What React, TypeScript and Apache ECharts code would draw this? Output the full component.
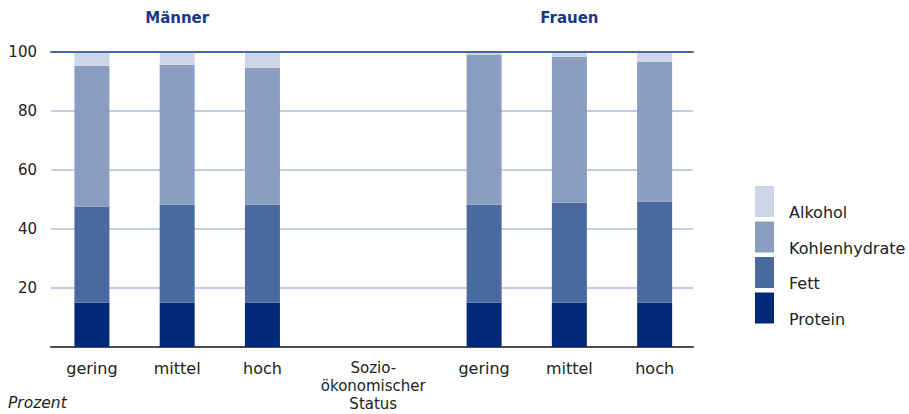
import React, { useEffect, useRef } from "react";
import * as echarts from "echarts";

// Categories (x positions in slot units; the gap between the groups is wider)
const categories = ["gering", "mittel", "hoch", "gering", "mittel", "hoch"];
const categoryPos = [0, 1, 2, 4.6, 5.6, 6.6];
const middleLabel = "Sozio-\nökonomischer\nStatus";
const middlePos = 3.3;
const groupTitles = ["Männer", "Frauen"];
const groupTitlePos = [1, 5.6];

// Series values (percent of energy intake)
const protein = [15, 15, 15, 15, 15, 15];
const fett = [32.6, 33.2, 33.2, 33.2, 33.9, 34.3];
const kohlenhydrate = [47.7, 47.5, 46.4, 50.9, 49.5, 47.4];
const alkohol = [4.7, 4.3, 5.4, 0.9, 1.6, 3.3];

const yTicks = [0, 20, 40, 60, 80, 100];

const seriesDefs = [
  { name: "Protein", values: protein, color: "#002a77" },
  { name: "Fett", values: fett, color: "#4a699e" },
  { name: "Kohlenhydrate", values: kohlenhydrate, color: "#8b9ec2" },
  { name: "Alkohol", values: alkohol, color: "#cdd5e8" },
];

const FONT = "'DejaVu Sans', 'Noto Sans', sans-serif";
const BAR_WIDTH = 35;

export default function App() {
  const ref = useRef<HTMLDivElement>(null);

  useEffect(() => {
    if (!ref.current) return;
    const chart = echarts.init(ref.current, null, { renderer: "svg" });

    const xMin = -0.48;
    const xMax = 7.05;
    const gridLeft = 51;
    const gridRight = 216;
    const gridWidth = 909 - gridLeft - gridRight;
    const toPx = (v: number) => gridLeft + ((v - xMin) / (xMax - xMin)) * gridWidth;

    const labelValues = [...categoryPos.slice(0, 3), middlePos, ...categoryPos.slice(3)];
    const labelTexts = [...categories.slice(0, 3), middleLabel, ...categories.slice(3)];

    // cumulative stacking
    const base = categoryPos.map(() => 0);
    const series: any[] = seriesDefs.map((s) => {
      const data = s.values.map((v, i) => {
        const start = base[i];
        base[i] += v;
        return [categoryPos[i], start, base[i]];
      });
      return {
        name: s.name,
        type: "custom",
        itemStyle: { color: s.color },
        encode: { x: 0, y: [1, 2] },
        data,
        renderItem: (params: any, api: any) => {
          const x = api.value(0);
          const p0 = api.coord([x, api.value(1)]);
          const p1 = api.coord([x, api.value(2)]);
          return {
            type: "rect",
            shape: {
              x: p0[0] - BAR_WIDTH / 2,
              y: p1[1],
              width: BAR_WIDTH,
              height: p0[1] - p1[1],
            },
            style: { fill: s.color },
          };
        },
      };
    });

    const option: any = {
      animation: false,
      textStyle: { fontFamily: FONT },
      grid: { left: gridLeft, right: gridRight, top: 52, bottom: 67 },
      legend: {
        orient: "vertical",
        left: 755,
        top: 186,
        padding: 0,
        itemWidth: 19,
        itemHeight: 31,
        itemGap: 1,
        icon: "rect",
        selectedMode: false,
        data: ["Alkohol", "Kohlenhydrate", "Fett", "Protein"],
        formatter: (name: string) => `{t|${name}}`,
        textStyle: {
          fontFamily: FONT,
          fontSize: 16,
          color: "#222",
          rich: {
            t: {
              fontFamily: FONT,
              fontSize: 16,
              color: "#222",
              padding: [22, 0, 0, 10],
            },
          },
        },
      },
      xAxis: [
        {
          type: "value",
          min: xMin,
          max: xMax,
          splitLine: { show: false },
          axisTick: { show: false },
          axisLine: { show: true, onZero: false, lineStyle: { color: "#4d4d4d", width: 2 } },
          axisLabel: {
            customValues: labelValues,
            showMinLabel: true,
            showMaxLabel: true,
            margin: 12,
            fontFamily: FONT,
            fontSize: 16,
            lineHeight: 18,
            color: "#222",
            align: "center",
            verticalAlign: "top",
            formatter: (v: number) => {
              let best = 0;
              for (let i = 1; i < labelValues.length; i++) {
                if (Math.abs(labelValues[i] - v) < Math.abs(labelValues[best] - v)) best = i;
              }
              if (labelValues[best] === middlePos) {
                return labelTexts[best]
                  .split("\n")
                  .map((l) => `{m|${l}}`)
                  .join("\n");
              }
              return labelTexts[best];
            },
            rich: {
              m: {
                fontFamily: FONT,
                fontSize: 15,
                lineHeight: 18,
                color: "#222",
                align: "center",
              },
            },
          },
        },
        {
          type: "value",
          position: "top",
          min: xMin,
          max: xMax,
          z: 5,
          splitLine: { show: false },
          axisTick: { show: false },
          axisLabel: { show: false },
          axisLine: { show: true, onZero: false, lineStyle: { color: "#4a66a3", width: 2 } },
        },
      ],
      yAxis: {
        type: "value",
        min: yTicks[0],
        max: yTicks[yTicks.length - 1],
        interval: yTicks[1] - yTicks[0],
        axisLine: { show: false },
        axisTick: { show: false },
        axisLabel: {
          margin: 14,
          fontFamily: FONT,
          fontSize: 15,
          color: "#222",
          formatter: (v: number) => (v === 0 ? "" : String(v)),
        },
        splitLine: { show: true, lineStyle: { color: "#aebbdb", width: 1.5 } },
      },
      graphic: [
        ...groupTitles.map((t, i) => ({
          type: "text",
          x: toPx(groupTitlePos[i]),
          y: 18,
          style: {
            text: t,
            align: "center",
            verticalAlign: "middle",
            font: `bold 15px ${FONT}`,
            fill: "#17398a",
          },
        })),
        {
          type: "text",
          x: 8,
          y: 403,
          style: {
            text: "Prozent",
            align: "left",
            verticalAlign: "middle",
            font: `italic 15.5px ${FONT}`,
            fill: "#222",
          },
        },
      ],
      series,
    };

    chart.setOption(option);
    return () => chart.dispose();
  }, []);

  return (
    <div
      ref={ref}
      style={{ position: "absolute", left: 0, top: 0, width: 909, height: 414 }}
    />
  );
}
